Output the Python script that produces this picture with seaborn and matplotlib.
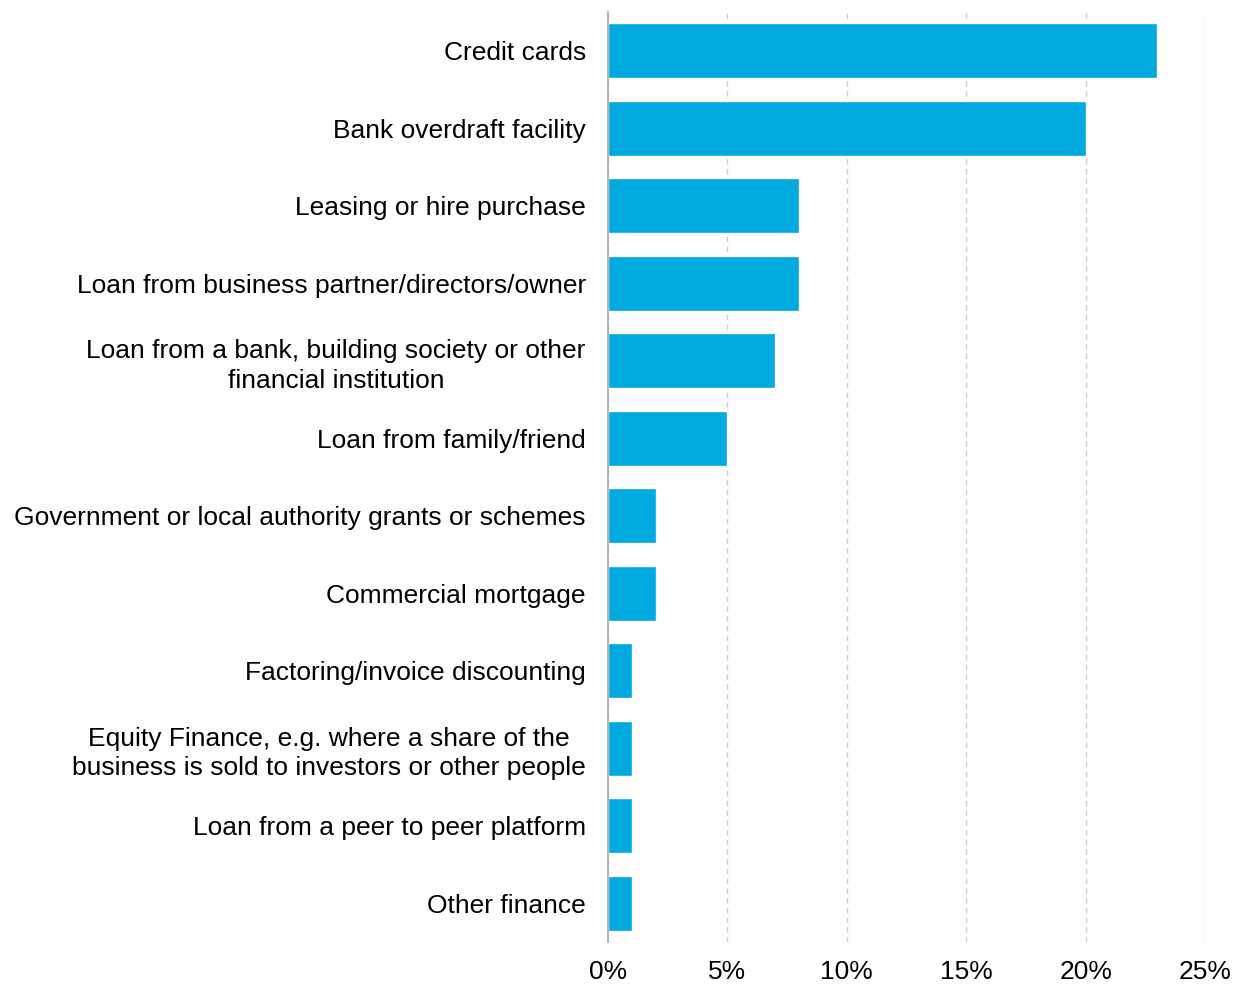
import matplotlib
matplotlib.use("Agg")
import matplotlib.pyplot as plt
import seaborn as sns
import pandas as pd
from matplotlib.ticker import FuncFormatter, MultipleLocator

categories = [
    "Credit cards",
    "Bank overdraft facility",
    "Leasing or hire purchase",
    "Loan from business partner/directors/owner",
    "Loan from a bank, building society or other\nfinancial institution",
    "Loan from family/friend",
    "Government or local authority grants or schemes",
    "Commercial mortgage",
    "Factoring/invoice discounting",
    "Equity Finance, e.g. where a share of the\nbusiness is sold to investors or other people",
    "Loan from a peer to peer platform",
    "Other finance",
]
shares = [23, 20, 8, 8, 7, 5, 2, 2, 1, 1, 1, 1]

df = pd.DataFrame({"category": categories, "share": shares})

sns.set_theme(style="white")
plt.rcParams["font.family"] = ["Liberation Sans", "DejaVu Sans"]

fig = plt.figure(figsize=(12.37, 9.84), dpi=100)
ax = fig.add_axes([608 / 1237, 1 - 942 / 984, (1205 - 608) / 1237, (942 - 12) / 984])

sns.barplot(data=df, x="share", y="category", color="#00A9E0", width=0.71,
            saturation=1, ax=ax, zorder=3)

ax.set_xlim(0, 25)
ax.set_ylim(11.5, -0.5)
ax.xaxis.set_major_locator(MultipleLocator(5))
ax.xaxis.set_major_formatter(FuncFormatter(lambda v, _: f"{v:.0f}%"))
ax.grid(axis="x", color="#D0D0D0", linestyle=(0, (4, 3)), linewidth=1, zorder=0)
ax.grid(axis="y", visible=False)

for side in ["top", "right", "bottom"]:
    ax.spines[side].set_visible(False)
ax.spines["left"].set_color("#A6A6A6")
ax.spines["left"].set_linewidth(1.2)
ax.spines["left"].set_zorder(4)

ax.set_xlabel("")
ax.set_ylabel("")
ax.tick_params(axis="y", length=0, pad=16, labelsize=19, labelcolor="#000000")
ax.tick_params(axis="x", length=0, pad=13, labelsize=19, labelcolor="#000000")
for lbl in ax.get_yticklabels():
    lbl.set_multialignment("center")
    lbl.set_linespacing(1.3)

fig.savefig("out.png", dpi=100, facecolor="white")
